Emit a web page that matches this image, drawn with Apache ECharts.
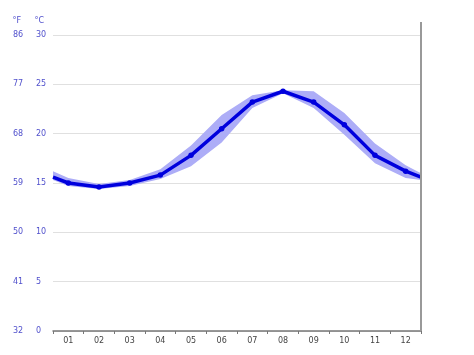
<!DOCTYPE html>
<html>
<head>
<meta charset="utf-8">
<script src="https://cdn.jsdelivr.net/npm/echarts@6/dist/echarts.min.js"></script>
<style>html,body{margin:0;padding:0;background:#fff}#c{width:474px;height:355px}</style>
</head>
<body>
<div id="c"></div>
<script>
const months = ['01','02','03','04','05','06','07','08','09','10','11','12'];
const temp  = [15.0, 14.6, 15.0, 15.8, 17.8, 20.5, 23.2, 24.3, 23.2, 20.9, 17.8, 16.2];
const upper = [15.5, 14.9, 15.3, 16.4, 18.8, 21.9, 23.9, 24.4, 24.3, 22.1, 19.0, 16.8];
const lower = [14.7, 14.4, 14.7, 15.4, 16.7, 19.1, 22.6, 24.1, 22.6, 19.9, 17.0, 15.5];
// values where the curves meet the left and right edges of the plot
const edgeStart = {temp: 15.6, upper: 16.2, lower: 15.3};
const edgeEnd   = {temp: 15.6, upper: 16.0, lower: 15.3};

function build(arr, key) {
  const out = [[0, edgeStart[key]]];
  arr.forEach((v, i) => out.push([i + 0.5, v]));
  out.push([12, edgeEnd[key]]);
  return out;
}
const lineData = build(temp, 'temp');
const upData = build(upper, 'upper');
const lowData = build(lower, 'lower');

const chart = echarts.init(document.getElementById('c'));
const labelColor = '#5050cc';
const font = 'DejaVu Sans';
chart.setOption({
  animation: false,
  grid: {left: 53, right: 53, top: 35, bottom: 24},
  xAxis: [
    {type: 'category', data: months, boundaryGap: true,
     axisLine: {lineStyle: {color: '#777', width: 1.5}},
     axisTick: {show: true, length: 3, lineStyle: {color: '#777'}},
     axisLabel: {color: '#444', fontSize: 8, fontFamily: font, margin: 6},
     splitLine: {show: false}},
    {type: 'value', min: 0, max: 12, show: false}
  ],
  yAxis: [
    {type: 'value', min: 0, max: 30, interval: 5, position: 'left',
     name: '°C', nameLocation: 'end', nameGap: 10,
     nameTextStyle: {color: labelColor, fontSize: 8, fontFamily: font, align: 'right', padding: [0, 9, 0, 0]},
     axisLine: {show: false}, axisTick: {show: false},
     axisLabel: {color: labelColor, fontSize: 8, fontFamily: font, align: 'left', margin: 17},
     splitLine: {show: true, lineStyle: {color: '#e0e0e0', width: 1}}},
    {type: 'value', min: 0, max: 30, interval: 5, position: 'left',
     name: '°F', nameLocation: 'end', nameGap: 10,
     nameTextStyle: {color: labelColor, fontSize: 8, fontFamily: font, align: 'right', padding: [0, 32, 0, 0]},
     axisLine: {show: false}, axisTick: {show: false},
     axisLabel: {color: labelColor, fontSize: 8, fontFamily: font, align: 'left', margin: 40,
       formatter: v => String(Math.round(v * 9 / 5 + 32))},
     splitLine: {show: false}}
  ],
  series: [
    {type: 'custom', xAxisIndex: 1, yAxisIndex: 0, data: [0], silent: true, z: 2,
     renderItem: (params, api) => {
       const pts = upData.map(p => api.coord(p)).concat(lowData.slice().reverse().map(p => api.coord(p)));
       return {type: 'polygon', shape: {points: pts}, style: {fill: '#adadf7'}};
     }},
    {type: 'line', xAxisIndex: 1, yAxisIndex: 0, data: lineData,
     symbol: 'circle', showSymbol: true,
     symbolSize: (v, p) => (p.dataIndex === 0 || p.dataIndex === lineData.length - 1) ? 0 : 5.5,
     itemStyle: {color: '#0000dd'},
     lineStyle: {color: '#0000dd', width: 3.5}, z: 5}
  ]
});
const xr = chart.convertToPixel({xAxisIndex: 1}, 12);
const yb = chart.convertToPixel({yAxisIndex: 0}, 0);
const yt = chart.convertToPixel({yAxisIndex: 0}, 30);
chart.setOption({
  graphic: [{type: 'line', shape: {x1: xr, y1: yt - 13, x2: xr, y2: yb}, style: {stroke: '#999', lineWidth: 2}, z: 10}]
});
</script>
</body>
</html>
